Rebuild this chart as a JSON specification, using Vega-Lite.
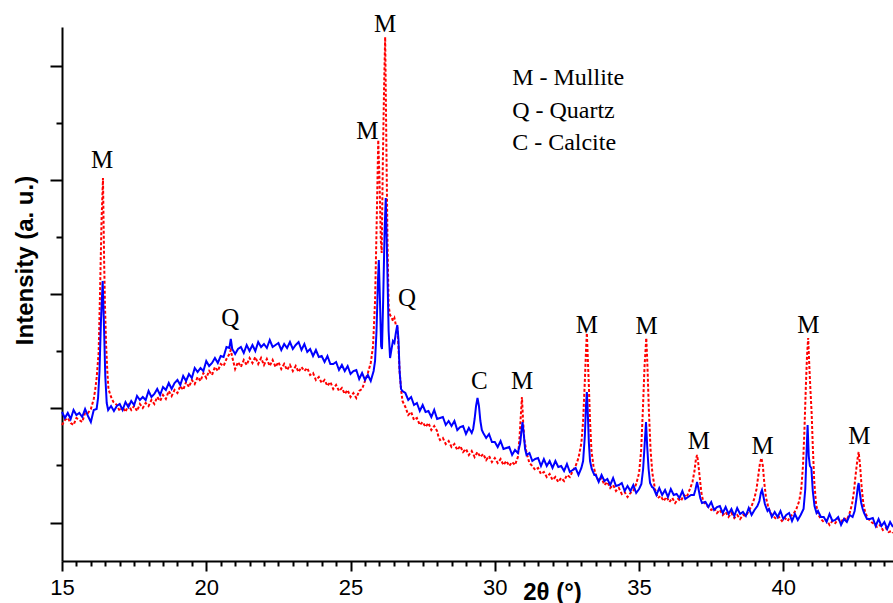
{
"$schema": "https://vega.github.io/schema/vega-lite/v6.json",
"width": 831, "height": 534,
"autosize": {"type": "none"},
"padding": {"left": 62, "top": 27, "right": 0, "bottom": 42},
"background": "white",
"config": {"view": {"stroke": null}},
"datasets": {
"red": [
{"t":15.0,"i":136},{"t":15.1,"i":141},{"t":15.2,"i":143},{"t":15.3,"i":138},{"t":15.4,"i":136},{"t":15.5,"i":143},{"t":15.6,"i":141},{"t":15.7,"i":139},{"t":15.8,"i":148},{"t":15.9,"i":148},{"t":16.0,"i":152},{"t":16.1,"i":162},{"t":16.15,"i":171},{"t":16.2,"i":183},{"t":16.27,"i":208},{"t":16.32,"i":270},{"t":16.37,"i":340},{"t":16.42,"i":383},{"t":16.46,"i":300},{"t":16.49,"i":255},{"t":16.53,"i":215},{"t":16.57,"i":190},{"t":16.61,"i":172},{"t":16.7,"i":164},{"t":16.78,"i":159},{"t":16.9,"i":156},{"t":17.0,"i":150},{"t":17.1,"i":154},{"t":17.2,"i":149},{"t":17.3,"i":156},{"t":17.4,"i":151},{"t":17.5,"i":155},{"t":17.6,"i":150},{"t":17.7,"i":157},{"t":17.8,"i":153},{"t":17.9,"i":158},{"t":18.0,"i":155},{"t":18.1,"i":161},{"t":18.2,"i":157},{"t":18.3,"i":164},{"t":18.4,"i":160},{"t":18.5,"i":166},{"t":18.6,"i":162},{"t":18.7,"i":170},{"t":18.8,"i":165},{"t":18.9,"i":171},{"t":19.0,"i":168},{"t":19.1,"i":175},{"t":19.2,"i":171},{"t":19.3,"i":179},{"t":19.4,"i":174},{"t":19.5,"i":181},{"t":19.6,"i":177},{"t":19.7,"i":184},{"t":19.8,"i":180},{"t":19.9,"i":188},{"t":20.0,"i":183},{"t":20.1,"i":190},{"t":20.2,"i":186},{"t":20.3,"i":194},{"t":20.4,"i":190},{"t":20.5,"i":197},{"t":20.6,"i":195},{"t":20.7,"i":202},{"t":20.8,"i":207},{"t":20.85,"i":211},{"t":20.9,"i":204},{"t":21.0,"i":192},{"t":21.1,"i":199},{"t":21.2,"i":194},{"t":21.3,"i":201},{"t":21.4,"i":196},{"t":21.5,"i":203},{"t":21.6,"i":198},{"t":21.7,"i":204},{"t":21.8,"i":197},{"t":21.9,"i":203},{"t":22.0,"i":196},{"t":22.1,"i":202},{"t":22.2,"i":195},{"t":22.3,"i":201},{"t":22.4,"i":194},{"t":22.5,"i":199},{"t":22.6,"i":192},{"t":22.7,"i":197},{"t":22.8,"i":191},{"t":22.9,"i":196},{"t":23.0,"i":190},{"t":23.1,"i":195},{"t":23.2,"i":189},{"t":23.3,"i":194},{"t":23.4,"i":190},{"t":23.5,"i":193},{"t":23.6,"i":186},{"t":23.7,"i":188},{"t":23.8,"i":181},{"t":23.9,"i":184},{"t":24.0,"i":178},{"t":24.1,"i":181},{"t":24.2,"i":175},{"t":24.3,"i":179},{"t":24.4,"i":172},{"t":24.5,"i":176},{"t":24.6,"i":170},{"t":24.7,"i":173},{"t":24.8,"i":167},{"t":24.9,"i":171},{"t":25.0,"i":164},{"t":25.1,"i":168},{"t":25.2,"i":163},{"t":25.3,"i":170},{"t":25.4,"i":172},{"t":25.5,"i":180},{"t":25.6,"i":188},{"t":25.7,"i":198},{"t":25.78,"i":215},{"t":25.85,"i":260},{"t":25.9,"i":330},{"t":25.96,"i":421},{"t":26.0,"i":385},{"t":26.05,"i":320},{"t":26.08,"i":308},{"t":26.12,"i":400},{"t":26.16,"i":470},{"t":26.2,"i":524},{"t":26.24,"i":420},{"t":26.28,"i":320},{"t":26.32,"i":255},{"t":26.37,"i":246},{"t":26.42,"i":244},{"t":26.47,"i":240},{"t":26.52,"i":243},{"t":26.57,"i":236},{"t":26.62,"i":234},{"t":26.66,"i":215},{"t":26.7,"i":190},{"t":26.75,"i":172},{"t":26.8,"i":160},{"t":26.9,"i":154},{"t":27.0,"i":146},{"t":27.1,"i":149},{"t":27.2,"i":141},{"t":27.3,"i":143},{"t":27.4,"i":136},{"t":27.5,"i":139},{"t":27.6,"i":134},{"t":27.7,"i":138},{"t":27.8,"i":131},{"t":27.9,"i":135},{"t":28.0,"i":130},{"t":28.05,"i":124},{"t":28.1,"i":121},{"t":28.2,"i":123},{"t":28.3,"i":117},{"t":28.4,"i":120},{"t":28.5,"i":114},{"t":28.6,"i":117},{"t":28.7,"i":111},{"t":28.8,"i":115},{"t":28.9,"i":109},{"t":29.0,"i":112},{"t":29.1,"i":106},{"t":29.2,"i":110},{"t":29.3,"i":104},{"t":29.4,"i":109},{"t":29.5,"i":104},{"t":29.6,"i":107},{"t":29.7,"i":101},{"t":29.8,"i":105},{"t":29.9,"i":99},{"t":30.0,"i":103},{"t":30.1,"i":98},{"t":30.2,"i":102},{"t":30.3,"i":96},{"t":30.4,"i":100},{"t":30.5,"i":95},{"t":30.6,"i":99},{"t":30.7,"i":96},{"t":30.8,"i":104},{"t":30.86,"i":125},{"t":30.9,"i":145},{"t":30.94,"i":164},{"t":30.98,"i":140},{"t":31.02,"i":122},{"t":31.1,"i":108},{"t":31.2,"i":98},{"t":31.3,"i":95},{"t":31.4,"i":91},{"t":31.5,"i":93},{"t":31.6,"i":87},{"t":31.7,"i":89},{"t":31.8,"i":84},{"t":31.9,"i":87},{"t":32.0,"i":81},{"t":32.1,"i":84},{"t":32.2,"i":79},{"t":32.3,"i":83},{"t":32.4,"i":80},{"t":32.5,"i":86},{"t":32.6,"i":84},{"t":32.7,"i":90},{"t":32.8,"i":95},{"t":32.9,"i":103},{"t":33.0,"i":118},{"t":33.06,"i":140},{"t":33.12,"i":180},{"t":33.16,"i":210},{"t":33.19,"i":228},{"t":33.22,"i":205},{"t":33.26,"i":175},{"t":33.3,"i":140},{"t":33.35,"i":110},{"t":33.42,"i":95},{"t":33.5,"i":86},{"t":33.6,"i":80},{"t":33.7,"i":83},{"t":33.8,"i":76},{"t":33.9,"i":79},{"t":34.0,"i":73},{"t":34.1,"i":76},{"t":34.2,"i":70},{"t":34.3,"i":73},{"t":34.4,"i":67},{"t":34.5,"i":69},{"t":34.6,"i":64},{"t":34.7,"i":68},{"t":34.8,"i":70},{"t":34.9,"i":77},{"t":35.0,"i":88},{"t":35.07,"i":110},{"t":35.13,"i":150},{"t":35.19,"i":195},{"t":35.25,"i":223},{"t":35.29,"i":195},{"t":35.34,"i":150},{"t":35.4,"i":110},{"t":35.46,"i":88},{"t":35.55,"i":72},{"t":35.65,"i":63},{"t":35.75,"i":65},{"t":35.85,"i":60},{"t":35.95,"i":64},{"t":36.05,"i":59},{"t":36.15,"i":63},{"t":36.25,"i":58},{"t":36.35,"i":62},{"t":36.45,"i":60},{"t":36.55,"i":66},{"t":36.65,"i":64},{"t":36.75,"i":71},{"t":36.85,"i":79},{"t":36.92,"i":90},{"t":36.97,"i":102},{"t":37.01,"i":106},{"t":37.05,"i":98},{"t":37.1,"i":84},{"t":37.16,"i":68},{"t":37.22,"i":60},{"t":37.3,"i":57},{"t":37.4,"i":54},{"t":37.5,"i":51},{"t":37.6,"i":53},{"t":37.7,"i":48},{"t":37.8,"i":51},{"t":37.9,"i":46},{"t":38.0,"i":49},{"t":38.1,"i":44},{"t":38.2,"i":48},{"t":38.3,"i":43},{"t":38.4,"i":46},{"t":38.5,"i":42},{"t":38.6,"i":46},{"t":38.7,"i":45},{"t":38.8,"i":50},{"t":38.9,"i":55},{"t":39.0,"i":63},{"t":39.07,"i":72},{"t":39.13,"i":85},{"t":39.19,"i":98},{"t":39.24,"i":103},{"t":39.29,"i":95},{"t":39.34,"i":78},{"t":39.4,"i":63},{"t":39.47,"i":55},{"t":39.55,"i":48},{"t":39.65,"i":45},{"t":39.75,"i":42},{"t":39.85,"i":44},{"t":39.95,"i":40},{"t":40.05,"i":43},{"t":40.15,"i":40},{"t":40.25,"i":45},{"t":40.35,"i":47},{"t":40.45,"i":52},{"t":40.55,"i":60},{"t":40.62,"i":72},{"t":40.68,"i":95},{"t":40.73,"i":130},{"t":40.78,"i":175},{"t":40.82,"i":205},{"t":40.86,"i":223},{"t":40.9,"i":195},{"t":40.94,"i":170},{"t":40.98,"i":148},{"t":41.02,"i":115},{"t":41.07,"i":80},{"t":41.13,"i":58},{"t":41.2,"i":47},{"t":41.3,"i":42},{"t":41.4,"i":39},{"t":41.5,"i":41},{"t":41.6,"i":36},{"t":41.7,"i":40},{"t":41.8,"i":38},{"t":41.9,"i":42},{"t":42.0,"i":39},{"t":42.1,"i":43},{"t":42.2,"i":41},{"t":42.3,"i":48},{"t":42.38,"i":57},{"t":42.44,"i":68},{"t":42.5,"i":85},{"t":42.56,"i":100},{"t":42.61,"i":109},{"t":42.66,"i":95},{"t":42.71,"i":75},{"t":42.77,"i":58},{"t":42.84,"i":48},{"t":42.95,"i":42},{"t":43.05,"i":39},{"t":43.15,"i":37},{"t":43.25,"i":34},{"t":43.35,"i":36},{"t":43.45,"i":31},{"t":43.55,"i":33},{"t":43.65,"i":29},{"t":43.75,"i":30},{"t":43.8,"i":28}
],
"blue": [
{"t":15.0,"i":149},{"t":15.1,"i":143},{"t":15.2,"i":148},{"t":15.3,"i":142},{"t":15.4,"i":151},{"t":15.5,"i":146},{"t":15.6,"i":148},{"t":15.7,"i":144},{"t":15.8,"i":152},{"t":15.9,"i":145},{"t":16.0,"i":139},{"t":16.1,"i":151},{"t":16.2,"i":152},{"t":16.25,"i":163},{"t":16.3,"i":190},{"t":16.35,"i":240},{"t":16.41,"i":280},{"t":16.46,"i":230},{"t":16.5,"i":185},{"t":16.55,"i":158},{"t":16.6,"i":151},{"t":16.7,"i":155},{"t":16.8,"i":150},{"t":16.9,"i":155},{"t":17.0,"i":157},{"t":17.1,"i":151},{"t":17.2,"i":159},{"t":17.3,"i":154},{"t":17.4,"i":160},{"t":17.5,"i":156},{"t":17.6,"i":165},{"t":17.7,"i":161},{"t":17.8,"i":164},{"t":17.9,"i":161},{"t":18.0,"i":170},{"t":18.1,"i":164},{"t":18.2,"i":167},{"t":18.3,"i":172},{"t":18.4,"i":166},{"t":18.5,"i":174},{"t":18.6,"i":171},{"t":18.7,"i":178},{"t":18.8,"i":172},{"t":18.9,"i":178},{"t":19.0,"i":181},{"t":19.1,"i":176},{"t":19.2,"i":185},{"t":19.3,"i":180},{"t":19.4,"i":187},{"t":19.5,"i":183},{"t":19.6,"i":193},{"t":19.7,"i":189},{"t":19.8,"i":193},{"t":19.9,"i":190},{"t":20.0,"i":200},{"t":20.1,"i":195},{"t":20.2,"i":198},{"t":20.3,"i":203},{"t":20.4,"i":198},{"t":20.5,"i":205},{"t":20.6,"i":204},{"t":20.7,"i":214},{"t":20.8,"i":213},{"t":20.85,"i":222},{"t":20.9,"i":212},{"t":21.0,"i":207},{"t":21.1,"i":212},{"t":21.2,"i":214},{"t":21.3,"i":208},{"t":21.4,"i":216},{"t":21.5,"i":210},{"t":21.6,"i":216},{"t":21.7,"i":210},{"t":21.8,"i":219},{"t":21.9,"i":214},{"t":22.0,"i":217},{"t":22.1,"i":213},{"t":22.2,"i":221},{"t":22.3,"i":214},{"t":22.4,"i":216},{"t":22.5,"i":218},{"t":22.6,"i":211},{"t":22.7,"i":217},{"t":22.8,"i":213},{"t":22.9,"i":219},{"t":23.0,"i":212},{"t":23.1,"i":216},{"t":23.2,"i":219},{"t":23.3,"i":211},{"t":23.4,"i":217},{"t":23.5,"i":209},{"t":23.6,"i":212},{"t":23.7,"i":205},{"t":23.8,"i":211},{"t":23.9,"i":204},{"t":24.0,"i":205},{"t":24.1,"i":199},{"t":24.2,"i":205},{"t":24.3,"i":197},{"t":24.4,"i":197},{"t":24.5,"i":199},{"t":24.6,"i":191},{"t":24.7,"i":196},{"t":24.8,"i":190},{"t":24.9,"i":195},{"t":25.0,"i":187},{"t":25.1,"i":190},{"t":25.2,"i":191},{"t":25.3,"i":182},{"t":25.4,"i":188},{"t":25.5,"i":181},{"t":25.6,"i":186},{"t":25.7,"i":180},{"t":25.8,"i":190},{"t":25.85,"i":200},{"t":25.9,"i":230},{"t":25.95,"i":280},{"t":25.98,"i":301},{"t":26.02,"i":260},{"t":26.06,"i":215},{"t":26.09,"i":212},{"t":26.13,"i":260},{"t":26.18,"i":330},{"t":26.22,"i":363},{"t":26.27,"i":300},{"t":26.32,"i":230},{"t":26.37,"i":203},{"t":26.42,"i":212},{"t":26.47,"i":220},{"t":26.52,"i":218},{"t":26.57,"i":228},{"t":26.62,"i":236},{"t":26.66,"i":222},{"t":26.7,"i":190},{"t":26.75,"i":172},{"t":26.8,"i":170},{"t":26.9,"i":168},{"t":27.0,"i":161},{"t":27.1,"i":164},{"t":27.2,"i":156},{"t":27.3,"i":158},{"t":27.4,"i":150},{"t":27.5,"i":156},{"t":27.6,"i":149},{"t":27.7,"i":150},{"t":27.8,"i":144},{"t":27.9,"i":151},{"t":28.0,"i":142},{"t":28.1,"i":143},{"t":28.2,"i":144},{"t":28.3,"i":136},{"t":28.4,"i":140},{"t":28.5,"i":135},{"t":28.6,"i":140},{"t":28.7,"i":131},{"t":28.8,"i":134},{"t":28.9,"i":135},{"t":29.0,"i":127},{"t":29.1,"i":133},{"t":29.2,"i":128},{"t":29.25,"i":132},{"t":29.3,"i":142},{"t":29.35,"i":155},{"t":29.4,"i":163},{"t":29.45,"i":155},{"t":29.5,"i":140},{"t":29.55,"i":131},{"t":29.6,"i":128},{"t":29.7,"i":123},{"t":29.8,"i":127},{"t":29.9,"i":119},{"t":30.0,"i":119},{"t":30.1,"i":114},{"t":30.2,"i":120},{"t":30.3,"i":112},{"t":30.4,"i":113},{"t":30.5,"i":114},{"t":30.6,"i":106},{"t":30.7,"i":111},{"t":30.8,"i":108},{"t":30.88,"i":118},{"t":30.93,"i":132},{"t":30.96,"i":139},{"t":31.0,"i":128},{"t":31.05,"i":112},{"t":31.1,"i":106},{"t":31.2,"i":108},{"t":31.3,"i":100},{"t":31.4,"i":102},{"t":31.5,"i":103},{"t":31.6,"i":95},{"t":31.7,"i":102},{"t":31.8,"i":95},{"t":31.9,"i":100},{"t":32.0,"i":93},{"t":32.1,"i":100},{"t":32.2,"i":94},{"t":32.3,"i":95},{"t":32.4,"i":90},{"t":32.5,"i":97},{"t":32.6,"i":89},{"t":32.7,"i":91},{"t":32.8,"i":93},{"t":32.9,"i":86},{"t":33.0,"i":93},{"t":33.06,"i":100},{"t":33.12,"i":125},{"t":33.16,"i":155},{"t":33.19,"i":169},{"t":33.22,"i":150},{"t":33.26,"i":118},{"t":33.3,"i":100},{"t":33.36,"i":92},{"t":33.45,"i":86},{"t":33.5,"i":86},{"t":33.6,"i":79},{"t":33.7,"i":86},{"t":33.8,"i":80},{"t":33.9,"i":82},{"t":34.0,"i":76},{"t":34.1,"i":83},{"t":34.2,"i":75},{"t":34.3,"i":76},{"t":34.4,"i":78},{"t":34.5,"i":70},{"t":34.6,"i":75},{"t":34.7,"i":70},{"t":34.8,"i":76},{"t":34.9,"i":68},{"t":35.0,"i":72},{"t":35.08,"i":77},{"t":35.14,"i":92},{"t":35.19,"i":115},{"t":35.24,"i":139},{"t":35.28,"i":115},{"t":35.33,"i":92},{"t":35.38,"i":78},{"t":35.45,"i":74},{"t":35.5,"i":73},{"t":35.6,"i":66},{"t":35.7,"i":73},{"t":35.8,"i":66},{"t":35.9,"i":71},{"t":36.0,"i":64},{"t":36.1,"i":72},{"t":36.2,"i":66},{"t":36.3,"i":67},{"t":36.4,"i":63},{"t":36.5,"i":70},{"t":36.6,"i":62},{"t":36.7,"i":64},{"t":36.8,"i":66},{"t":36.9,"i":66},{"t":36.95,"i":71},{"t":37.01,"i":79},{"t":37.06,"i":72},{"t":37.12,"i":63},{"t":37.18,"i":58},{"t":37.3,"i":59},{"t":37.4,"i":54},{"t":37.5,"i":59},{"t":37.6,"i":51},{"t":37.7,"i":54},{"t":37.8,"i":55},{"t":37.9,"i":48},{"t":38.0,"i":54},{"t":38.1,"i":47},{"t":38.2,"i":52},{"t":38.3,"i":45},{"t":38.4,"i":53},{"t":38.5,"i":47},{"t":38.6,"i":49},{"t":38.7,"i":45},{"t":38.8,"i":53},{"t":38.9,"i":46},{"t":39.0,"i":51},{"t":39.1,"i":55},{"t":39.17,"i":60},{"t":39.22,"i":68},{"t":39.26,"i":71},{"t":39.3,"i":66},{"t":39.36,"i":57},{"t":39.45,"i":50},{"t":39.5,"i":52},{"t":39.6,"i":44},{"t":39.7,"i":49},{"t":39.8,"i":44},{"t":39.9,"i":50},{"t":40.0,"i":42},{"t":40.1,"i":46},{"t":40.2,"i":48},{"t":40.3,"i":40},{"t":40.4,"i":47},{"t":40.5,"i":41},{"t":40.6,"i":46},{"t":40.7,"i":52},{"t":40.76,"i":72},{"t":40.8,"i":105},{"t":40.84,"i":136},{"t":40.88,"i":105},{"t":40.92,"i":95},{"t":40.97,"i":93},{"t":41.02,"i":70},{"t":41.08,"i":55},{"t":41.15,"i":48},{"t":41.2,"i":50},{"t":41.3,"i":44},{"t":41.4,"i":44},{"t":41.5,"i":39},{"t":41.6,"i":47},{"t":41.7,"i":40},{"t":41.8,"i":41},{"t":41.9,"i":44},{"t":42.0,"i":36},{"t":42.1,"i":42},{"t":42.2,"i":39},{"t":42.3,"i":46},{"t":42.4,"i":44},{"t":42.47,"i":50},{"t":42.53,"i":62},{"t":42.58,"i":74},{"t":42.61,"i":78},{"t":42.65,"i":68},{"t":42.7,"i":58},{"t":42.75,"i":52},{"t":42.8,"i":48},{"t":42.9,"i":42},{"t":43.0,"i":42},{"t":43.1,"i":43},{"t":43.2,"i":35},{"t":43.3,"i":42},{"t":43.4,"i":35},{"t":43.5,"i":39},{"t":43.6,"i":32},{"t":43.7,"i":39},{"t":43.8,"i":34}
],
"labels": [
{"t":16.39,"i":401,"l":"M"},{"t":20.83,"i":243,"l":"Q"},{"t":25.58,"i":430,"l":"M"},{"t":26.2,"i":537,"l":"M"},{"t":26.96,"i":263,"l":"Q"},{"t":29.46,"i":180,"l":"C"},{"t":30.95,"i":180,"l":"M"},{"t":33.19,"i":236,"l":"M"},{"t":35.26,"i":235,"l":"M"},{"t":37.07,"i":120,"l":"M"},{"t":39.28,"i":115,"l":"M"},{"t":40.87,"i":236,"l":"M"},{"t":42.63,"i":125,"l":"M"}
],
"legend": [
{"t":30.6,"i":483,"l":"M - Mullite"},{"t":30.6,"i":450,"l":"Q - Quartz"},{"t":30.6,"i":418,"l":"C - Calcite"}
]
},
"encoding": {
"x": {"field": "t", "type": "quantitative", "scale": {"domain": [15, 43.8], "nice": false, "zero": false},
"axis": {"values": [15,15.5,16,16.5,17,17.5,18,18.5,19,19.5,20,20.5,21,21.5,22,22.5,23,23.5,24,24.5,25,25.5,26,26.5,27,27.5,28,28.5,29,29.5,30,30.5,31,31.5,32,32.5,33,33.5,34,34.5,35,35.5,36,36.5,37,37.5,38,38.5,39,39.5,40,40.5,41,41.5,42,42.5,43,43.5],
"labelExpr": "datum.value % 5 === 0 ? format(datum.value, 'd') : ''",
"labelOverlap": false,
"labelFlush": false,
"grid": false,
"tickSize": 10,
"tickDash": {"condition": {"test": "datum.value % 5 !== 0", "value": [5, 10]}, "value": [10, 0]},
"tickWidth": 2, "tickColor": "#000000", "domainWidth": 2, "domainColor": "#000000", "labelFont": "Liberation Sans", "labelFontSize": 22, "labelColor": "#000000", "labelPadding": 6, "title": "2θ (°)", "titleFont": "Liberation Sans", "titleFontSize": 24, "titleFontWeight": "bold", "titleColor": "#000000", "titleX": 490, "titleY": 38, "titleAlign": "center", "titleBaseline": "alphabetic"}}
},
"resolve": {"axis": {"y": "independent"}},
"layer": [
{
"data": {"name": "red"},
"mark": {"type": "line", "color": "#ff0000", "strokeWidth": 2, "strokeDash": [3, 2]},
"encoding": {
"y": {"field": "i", "type": "quantitative", "scale": {"domain": [0, 534], "nice": false, "zero": false},
"axis": {"orient": "left", "values": [38.5, 152.7, 266.9, 381.1, 495.3], "labels": false, "grid": false, "tickSize": 12, "tickWidth": 2, "tickColor": "black", "domainWidth": 2, "domainColor": "black", "title": "Intensity (a. u.)", "titleFont": "Liberation Sans", "titleFontSize": 24, "titleFontWeight": "bold", "titleColor": "black", "titleAngle": 270, "titleX": -37, "titleY": 233, "titleAlign": "center", "titleBaseline": "middle"}}
}
},
{
"data": {"name": "blue"},
"mark": {"type": "line", "color": "#0000ff", "strokeWidth": 2},
"encoding": {
"y": {"field": "i", "type": "quantitative", "scale": {"domain": [0, 534], "nice": false, "zero": false},
"axis": {"orient": "left", "values": [95.6, 209.8, 324, 438.2], "labels": false, "domain": false, "grid": false, "tickSize": 6, "tickWidth": 2, "tickColor": "black", "title": null}}
}
},
{
"data": {"name": "labels"},
"mark": {"type": "text", "font": "Liberation Serif", "fontSize": 25, "color": "black", "align": "center", "baseline": "middle"},
"encoding": {
"y": {"field": "i", "type": "quantitative", "axis": null},
"text": {"field": "l"}
}
},
{
"data": {"name": "legend"},
"mark": {"type": "text", "font": "Liberation Serif", "fontSize": 24, "color": "black", "align": "left", "baseline": "middle"},
"encoding": {
"y": {"field": "i", "type": "quantitative", "axis": null},
"text": {"field": "l"}
}
}
]
}
